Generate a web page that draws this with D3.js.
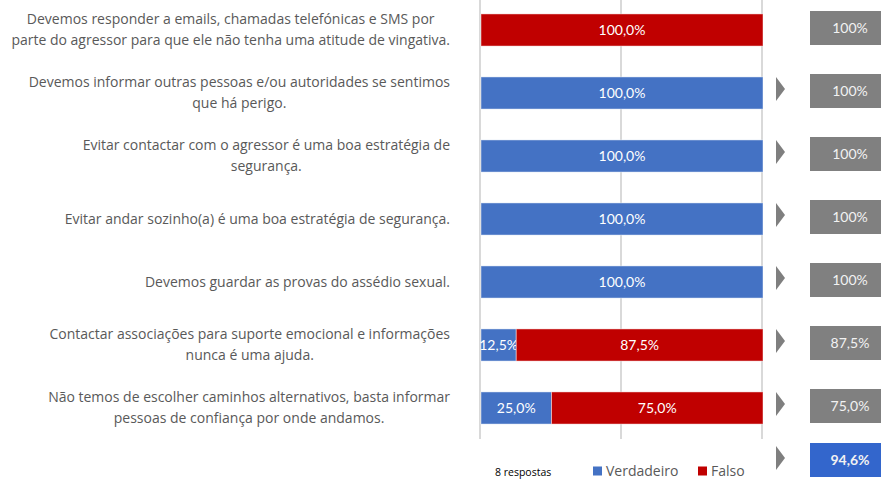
<!DOCTYPE html>
<html>
<head>
<meta charset="utf-8">
<script src="https://cdn.jsdelivr.net/npm/d3@7"></script>
<style>
  html, body { margin: 0; padding: 0; background: #fff; }
  svg { display: block; }
</style>
</head>
<body>
<svg id="chart" width="881" height="480"></svg>
<script>
// Statements (each entry is a list of wrapped lines)
const statements = [
  ["Devemos responder a emails, chamadas telefónicas e SMS por", "parte do agressor para que ele não tenha uma atitude de vingativa."],
  ["Devemos informar outras pessoas e/ou autoridades se sentimos", "que há perigo."],
  ["Evitar contactar com o agressor é uma boa estratégia de", "segurança."],
  ["Evitar andar sozinho(a) é uma boa estratégia de segurança."],
  ["Devemos guardar as provas do assédio sexual."],
  ["Contactar associações para suporte emocional e informações", "nunca é uma ajuda."],
  ["Não temos de escolher caminhos alternativos, basta informar", "pessoas de confiança por onde andamos."]
];
// Share of answers per statement
const verdadeiro = [0, 1, 1, 1, 1, 0.125, 0.25];
const falso      = [1, 0, 0, 0, 0, 0.875, 0.75];
// Share of correct answers per statement
const acertos = [1, 1, 1, 1, 1, 0.875, 0.75];
// Statements that carry a pointer arrow before the score box
const withArrow = [false, true, true, true, true, true, true];
const seriesNames = ["Verdadeiro", "Falso"];
const seriesColors = ["#4472C4", "#C00000"];
const gridTicks = [0, 0.5, 1];
const respostas = "8 respostas";

const svg = d3.select("#chart");
const idx = d3.range(statements.length);

const x = d3.scaleLinear().domain([0, 1]).range([481, 763]);
const y = d3.scaleBand().domain(idx).range([-1.5, 439.5])
  .paddingInner(0.49).paddingOuter(0.245);

const fmtBar = v => d3.format(".1f")(v * 100).replace(".", ",") + "%";
const fmtBox = v => v === 1 ? "100%" : fmtBar(v);

// Vertical gridlines
svg.append("g").selectAll("line").data(gridTicks).join("line")
  .attr("x1", d => x(d) - 1).attr("x2", d => x(d) - 1)
  .attr("y1", 0).attr("y2", 439)
  .attr("stroke", "#d9d9d9").attr("stroke-width", 2);

// Stacked bars
const stackData = idx.map(i => ({ i, Verdadeiro: verdadeiro[i], Falso: falso[i] }));
const stack = d3.stack().keys(seriesNames)(stackData);
const color = d3.scaleOrdinal().domain(seriesNames).range(seriesColors);

const layers = svg.append("g").selectAll("g").data(stack).join("g")
  .attr("fill", d => color(d.key));

layers.selectAll("rect").data(d => d.filter(s => s[1] - s[0] > 0)).join("rect")
  .attr("x", s => x(s[0]))
  .attr("width", s => x(s[1]) - x(s[0]))
  .attr("y", s => y(s.data.i))
  .attr("height", y.bandwidth())
  .attr("stroke", "#ffffff").attr("stroke-opacity", 0.45).attr("stroke-width", 1);

layers.selectAll("text").data(d => d.filter(s => s[1] - s[0] > 0)).join("text")
  .attr("x", s => (x(s[0]) + x(s[1])) / 2)
  .attr("y", s => y(s.data.i) + y.bandwidth() / 2)
  .attr("dy", "0.35em")
  .attr("text-anchor", "middle")
  .attr("font-family", "Lato, 'Liberation Sans', sans-serif")
  .attr("font-size", 14)
  .attr("fill", "#ffffff")
  .text(s => fmtBar(s[1] - s[0]));

// Statement labels, wrapped and centred on their longest line, right edge at 450
const labelRight = 450, lineH = 21;
const labels = svg.append("g")
  .attr("font-family", "'Open Sans', sans-serif")
  .attr("font-size", 14)
  .attr("fill", "#595959");

idx.forEach(i => {
  const lines = statements[i];
  const g = labels.append("g");
  const cy = y(i) + y.bandwidth() / 2;
  const texts = lines.map((ln, k) => g.append("text")
    .attr("y", cy + (k - (lines.length - 1) / 2) * lineH)
    .attr("dy", "0.35em")
    .attr("text-anchor", "middle")
    .text(ln));
  const maxW = d3.max(texts, t => t.node().getComputedTextLength());
  texts.forEach(t => t.attr("x", labelRight - maxW / 2));
});

// Score boxes with pointer arrows
const boxX = 810, boxW = 80, boxH = 34, arrowX = 776;
const boxes = svg.append("g");
function scoreBox(cy, value, fill, bold, arrow) {
  if (arrow) {
    boxes.append("path")
      .attr("d", `M${arrowX},${cy - 14} L${arrowX + 9},${cy - 2} L${arrowX},${cy + 10} Z`)
      .attr("fill", "#7f7f7f");
  }
  boxes.append("rect")
    .attr("x", boxX).attr("y", cy - boxH / 2)
    .attr("width", boxW).attr("height", boxH)
    .attr("fill", fill);
  boxes.append("text")
    .attr("x", 850).attr("y", cy)
    .attr("dy", "0.35em")
    .attr("text-anchor", "middle")
    .attr("font-family", "Lato, 'Liberation Sans', sans-serif")
    .attr("font-size", 14)
    .attr("font-weight", bold ? "bold" : "normal")
    .attr("fill", "#f2f2f2")
    .text(value);
}
idx.forEach(i => scoreBox(y(i) + y.bandwidth() / 2 - 2, fmtBox(acertos[i]), "#808080", false, withArrow[i]));

// Overall score = mean of correct shares
const media = d3.mean(acertos);
scoreBox(460, fmtBar(media), "#3366CC", true, true);

// Footer: response count and legend
svg.append("text")
  .attr("x", 495).attr("y", 476)
  .attr("font-family", "'Open Sans', sans-serif")
  .attr("font-size", 10.5)
  .attr("fill", "#000")
  .text(respostas);

const legend = svg.append("g").selectAll("g").data(seriesNames).join("g")
  .attr("transform", (d, k) => `translate(${k === 0 ? 593 : 698},471)`);
legend.append("rect")
  .attr("x", 0).attr("y", -4.5).attr("width", 9).attr("height", 9)
  .attr("fill", d => color(d));
legend.append("text")
  .attr("x", 13).attr("y", 0).attr("dy", "0.35em")
  .attr("font-family", "'Open Sans', sans-serif")
  .attr("font-size", 14)
  .attr("fill", "#595959")
  .text(d => d);
</script>
</body>
</html>
